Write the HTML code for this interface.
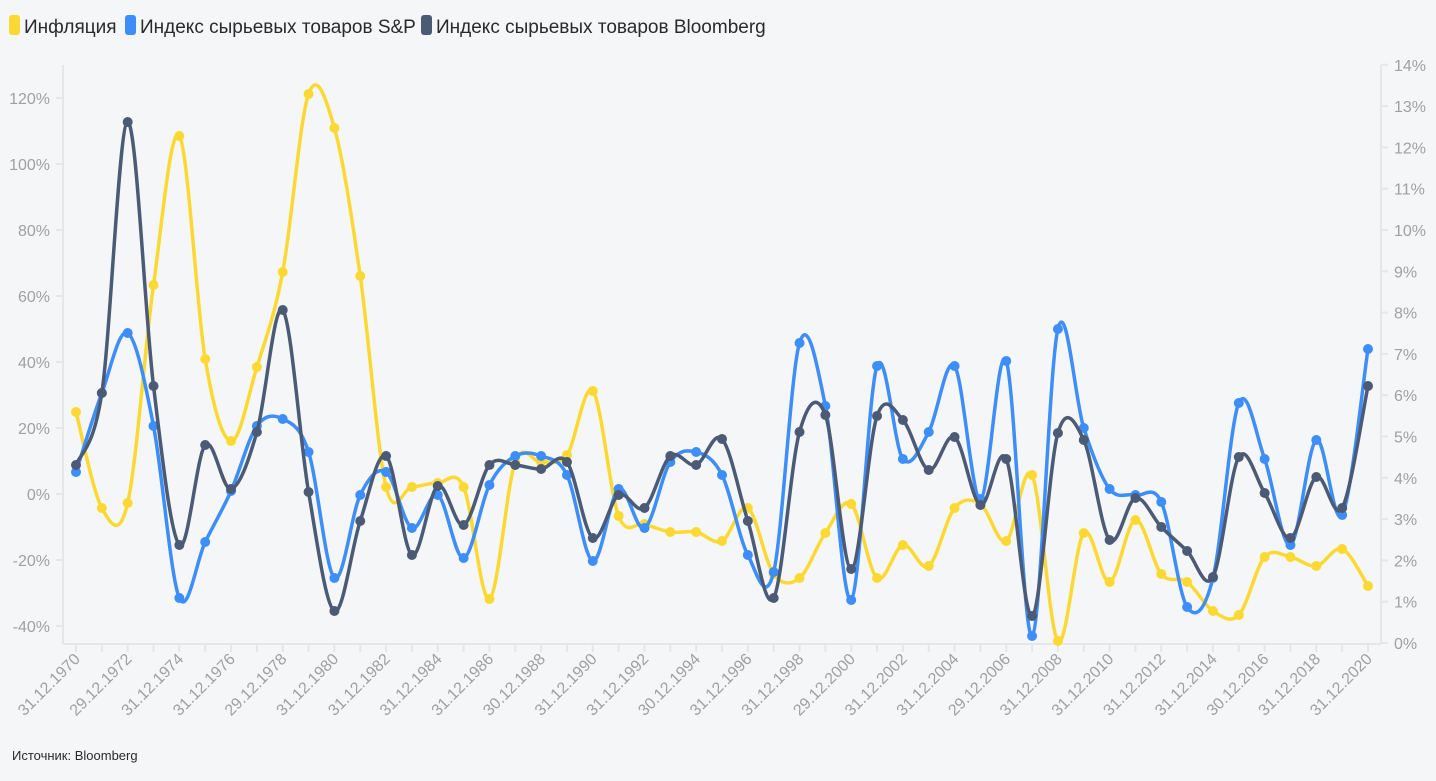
<!DOCTYPE html>
<html><head><meta charset="utf-8"><style>
body{margin:0;background:#f5f6f8;}
svg text{font-family:"Liberation Sans",sans-serif;}
</style></head><body>
<svg id="s" width="1436" height="776" xmlns="http://www.w3.org/2000/svg">
<rect width="1436" height="776" fill="#f5f6f8"/>
<g font-size="19" fill="#2a2a2a">
<rect x="9" y="15" width="11" height="20" rx="3" fill="#fcd932"/><text x="24" y="33">Инфляция</text>
<rect x="125" y="15" width="11" height="20" rx="3" fill="#3d8ef8"/><text x="140" y="33">Индекс сырьевых товаров S&amp;P</text>
<rect x="421" y="15" width="11" height="20" rx="3" fill="#4b5a75"/><text x="436" y="33">Индекс сырьевых товаров Bloomberg</text>
</g>
<line x1="63" y1="65" x2="63" y2="644" stroke="#e6e6e6" stroke-width="2"/>
<line x1="1381" y1="65" x2="1381" y2="644" stroke="#e6e6e6" stroke-width="2"/>
<line x1="63" y1="644" x2="1381" y2="644" stroke="#e6e6e6" stroke-width="2"/>
<g id="ax" font-size="16" fill="#a0a0a0"></g>
<g id="ln"></g>
<text x="12" y="760" font-size="13" fill="#2a2a2a">Источник: Bloomberg</text>
</svg>
<script>
var NS="http://www.w3.org/2000/svg",ax=document.getElementById('ax'),ln=document.getElementById('ln');
function el(t,a,p,tx){var e=document.createElementNS(NS,t);for(var k in a)e.setAttribute(k,a[k]);if(tx)e.textContent=tx;p.appendChild(e);return e;}
for(var v=120;v>=-40;v-=20){var y=494-v*3.3;el('line',{x1:56,x2:63,y1:y,y2:y,stroke:'#e6e6e6','stroke-width':2},ax);el('text',{x:50,y:y+6,'text-anchor':'end'},ax,v+'%');}
for(var r=0;r<=14;r++){var y=643-r*41.3;el('line',{x1:1381,x2:1388,y1:y,y2:y,stroke:'#e6e6e6','stroke-width':2},ax);el('text',{x:1394,y:y+6},ax,r+'%');}
var st=25.84;
var labs=['31.12.1970','29.12.1972','31.12.1974','31.12.1976','29.12.1978','31.12.1980','31.12.1982','31.12.1984','31.12.1986','30.12.1988','31.12.1990','31.12.1992','30.12.1994','31.12.1996','31.12.1998','29.12.2000','31.12.2002','31.12.2004','29.12.2006','31.12.2008','31.12.2010','31.12.2012','31.12.2014','30.12.2016','31.12.2018','31.12.2020'];
for(var i=0;i<=50;i++){var x=76+st*i;el('line',{x1:x,x2:x,y1:644,y2:652,stroke:'#e6e6e6','stroke-width':2},ax);
if(i%2==0){el('text',{x:x+5,y:660,'text-anchor':'end',transform:'rotate(-45 '+(x+5)+' 660)'},ax,labs[i/2]);}}
var Y=[412,508,503,285,136,359,441,367,272,94,128,276,487,487,483,487,599,462,462,455,391,516,524,532,532,541,508,574,578,533,504,578,545,566,508,504,541,475,641,533,582,520,574,582,611,615,557,557,566,549,586];
var B=[472,393,333,426,598,542,491,426,419,452,578,495,472,528,495,558,485,456,456,475,561,489,528,462,452,475,555,572,343,406,600,366,459,432,366,499,361,636,329,428,489,495,502,607,578,403,459,545,440,515,349];
var D=[465,393,122,386,545,445,489,432,310,492,611,521,456,555,486,525,465,465,469,462,538,495,508,456,465,439,521,598,432,415,569,416,420,470,437,505,459,616,433,440,540,498,527,551,577,457,493,538,477,508,386];
function draw(a,c){var p=a.map(function(y,i){return[76+st*i,y]});var d='M'+p[0][0]+','+p[0][1];
for(var i=0;i<p.length-1;i++){var p0=p[i-1]||p[i],p1=p[i],p2=p[i+1],p3=p[i+2]||p2,t=6;
d+=' C'+(p1[0]+(p2[0]-p0[0])/t)+','+(p1[1]+(p2[1]-p0[1])/t)+' '+(p2[0]-(p3[0]-p1[0])/t)+','+(p2[1]-(p3[1]-p1[1])/t)+' '+p2[0]+','+p2[1];}
el('path',{d:d,fill:'none',stroke:c,'stroke-width':3.5},ln);p.forEach(function(q){el('circle',{cx:q[0],cy:q[1],r:5,fill:c},ln)});}
draw(Y,'#fcd932');draw(B,'#3d8ef8');draw(D,'#4b5a75');
</script>
</body></html>
